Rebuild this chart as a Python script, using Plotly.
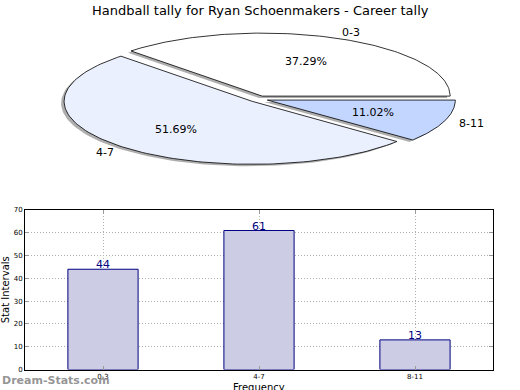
import numpy as np
import plotly.graph_objects as go

title = "Handball tally for Ryan Schoenmakers - Career tally"
categories = ["0-3", "4-7", "8-11"]
counts = [44, 61, 13]
pie_colors = ["#FFFFFF", "#EBF0FF", "#C3D6FF"]
bar_fill = "#CCCCE5"
bar_edge = "#000080"
explode = 0.05

W, H = 520, 390
fig = go.Figure()

total = float(sum(counts))
fracs = [c / total for c in counts]

# ---- pie (elliptical, drawn on its own axes) ----
start = 0.0
wedges = []
for cat, fr, col in zip(categories, fracs, pie_colors):
    t1 = start * 360.0
    t2 = (start + fr) * 360.0
    mid = np.deg2rad((t1 + t2) / 2.0)
    cx, cy = explode * np.cos(mid), explode * np.sin(mid)
    th = np.deg2rad(np.linspace(t1, t2, 120))
    xs = np.concatenate([[cx], cx + np.cos(th), [cx]])
    ys = np.concatenate([[cy], cy + np.sin(th), [cy]])
    wedges.append((cat, fr, col, mid, xs, ys))
    start += fr

# shadows
for cat, fr, col, mid, xs, ys in wedges:
    fig.add_trace(go.Scatter(x=xs - 0.016, y=ys - 0.03, mode="lines", fill="toself",
                             fillcolor="rgba(120,120,120,0.6)", line=dict(width=0),
                             xaxis="x2", yaxis="y2", hoverinfo="skip", showlegend=False))
for cat, fr, col, mid, xs, ys in wedges:
    fig.add_trace(go.Scatter(x=xs, y=ys, mode="lines", fill="toself", fillcolor=col,
                             line=dict(color="black", width=0.8),
                             xaxis="x2", yaxis="y2", hoverinfo="skip", showlegend=False))

annotations = []
for cat, fr, col, mid, xs, ys in wedges:
    c, s = np.cos(mid), np.sin(mid)
    lx, ly = (1.07 + explode) * c, (1.1 + explode) * s
    annotations.append(dict(x=lx, y=ly, xref="x2", yref="y2", text=cat, showarrow=False,
                            xanchor="left" if c > 0 else "right", yanchor="middle",
                            font=dict(family="DejaVu Sans", size=11, color="black")))
    px, py = (0.6 + explode) * c, (0.6 + explode) * s
    annotations.append(dict(x=px, y=py, xref="x2", yref="y2", text=f"{fr*100:.2f}%",
                            showarrow=False, xanchor="center", yanchor="middle",
                            font=dict(family="DejaVu Sans", size=11, color="black")))

# ---- bar chart ----
fig.add_trace(go.Bar(x=categories, y=counts, width=0.45, marker=dict(color=bar_fill,
                     line=dict(color=bar_edge, width=1)),
                     hoverinfo="skip", showlegend=False, xaxis="x", yaxis="y"))
for cat, v in zip(categories, counts):
    annotations.append(dict(x=cat, y=v, xref="x", yref="y", text=str(v), showarrow=False,
                            xanchor="center", yanchor="bottom", yshift=-4,
                            font=dict(family="DejaVu Sans", size=11, color=bar_edge)))

annotations.append(dict(x=0.5, y=1 - 10 / H, xref="paper", yref="paper", text=title,
                        showarrow=False, xanchor="center", yanchor="middle",
                        font=dict(family="DejaVu Sans", size=13, color="black")))
annotations.append(dict(x=(25 + 493) / 2 / W, y=1 - 387 / H, xref="paper", yref="paper",
                        text="Frequency", showarrow=False, xanchor="center", yanchor="middle",
                        font=dict(family="DejaVu Sans", size=10, color="black")))
annotations.append(dict(x=0.0, y=1 - 380 / H, xref="paper", yref="paper", text="<b>Dream-Stats.com</b>",
                        showarrow=False, xanchor="left", yanchor="middle",
                        font=dict(family="DejaVu Sans", size=11, color="rgba(130,130,130,0.85)")))

grid = dict(showgrid=True, gridcolor="#b0b0b0", griddash="1px,2px", gridwidth=1)
fig.update_layout(
    width=W, height=H, margin=dict(l=0, r=0, t=0, b=0),
    paper_bgcolor="white", plot_bgcolor="white",
    annotations=annotations, bargap=0,
    xaxis=dict(domain=[25 / W, 493 / W], type="category", range=[-0.5, 2.5],
               showline=True, linecolor="black", linewidth=1, mirror="allticks",
               ticks="inside", ticklen=4, tickcolor="#999", automargin=False,
               tickfont=dict(family="DejaVu Sans", size=7, color="black"),
               fixedrange=True, **grid),
    yaxis=dict(domain=[1 - 369.5 / H, 1 - 210 / H], range=[0, 70], dtick=10,
               showline=True, linecolor="black", linewidth=1, mirror="allticks",
               ticks="inside", ticklen=4, tickcolor="#999", automargin=False,
               zeroline=False,
               tickfont=dict(family="DejaVu Sans", size=7, color="black"),
               title=dict(text="Stat Intervals", standoff=2,
                          font=dict(family="DejaVu Sans", size=10, color="black")),
               fixedrange=True, **grid),
    xaxis2=dict(domain=[0, 1], range=[-258.5 / 188, (W - 258.5) / 188], visible=False,
                anchor="y2", fixedrange=True, automargin=False),
    yaxis2=dict(domain=[0.5, 1], range=[-96 / 63, 99 / 63], visible=False,
                anchor="x2", fixedrange=True, automargin=False),
)

fig.write_html("out.html", config={"displayModeBar": False, "staticPlot": True},
               post_script="document.body.style.margin='0';document.body.style.overflow='hidden';")
